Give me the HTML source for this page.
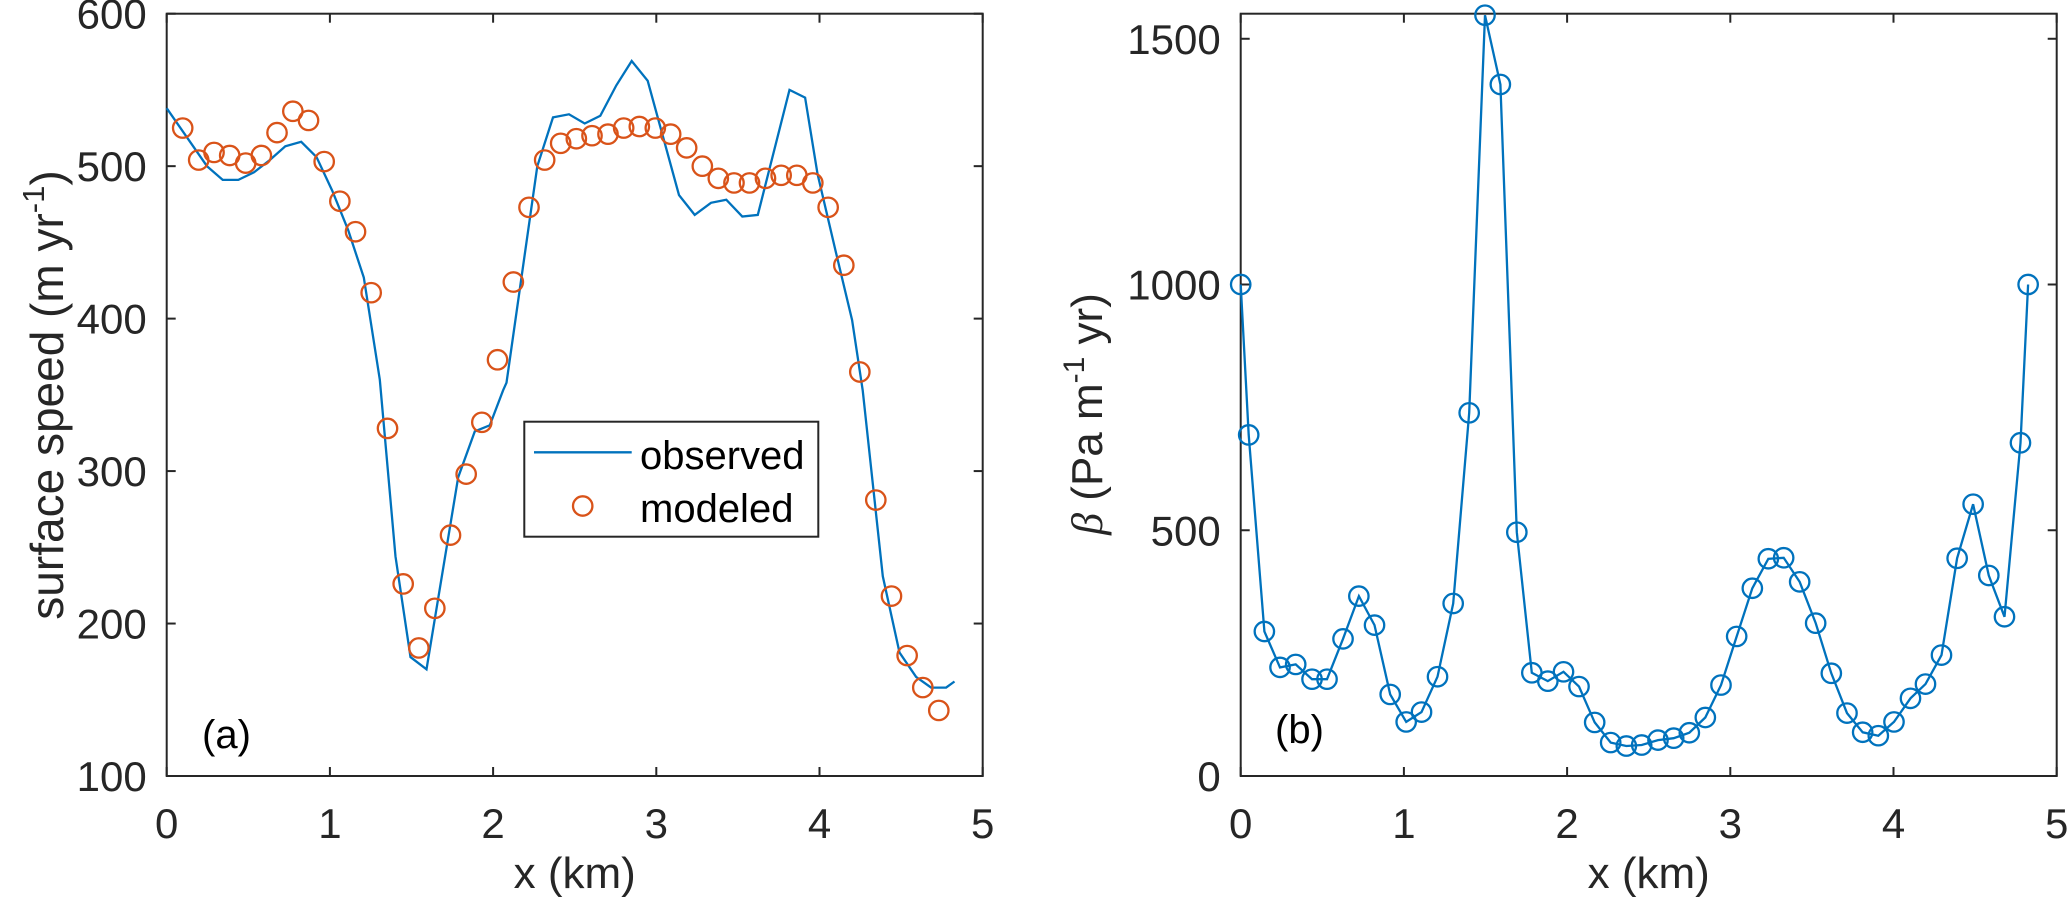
<!DOCTYPE html>
<html><head><meta charset="utf-8"><style>
html,body{margin:0;padding:0;background:#fff;}
svg{display:block;font-family:"Liberation Sans",Arial,sans-serif;}
</style></head><body>
<svg id="fig" width="2067" height="915" viewBox="0 0 2067 915" xmlns="http://www.w3.org/2000/svg">
<rect width="2067" height="915" fill="#fff"/>
<g id="pa"></g>
<g id="pb"></g>
</svg>
<script>
// Panel (a) data
const obsX = [0,0.247,0.343,0.439,0.535,0.631,0.727,0.824,0.918,1.014,1.112,1.208,1.306,1.402,1.494,1.592,1.786,1.888,1.980,2.061,2.082,2.271,2.367,2.465,2.561,2.657,2.755,2.849,2.947,3.139,3.235,3.335,3.429,3.527,3.622,3.816,3.912,3.988,4.102,4.200,4.265,4.388,4.490,4.592,4.684,4.776,4.827];
const obsY = [538,500,491,491,496,504,513,516,506,484,458,427,360,244,178,170,296,326,330,353,358,500,532,534,528,533,553,569,556,481,468,476,478,467,468,550,545,495,443,399,353,231,181,165,158,158,162];
const modX = [0.098,0.196,0.290,0.386,0.484,0.580,0.676,0.773,0.869,0.965,1.061,1.157,1.253,1.353,1.449,1.545,1.643,1.739,1.835,1.931,2.027,2.124,2.220,2.316,2.414,2.510,2.606,2.704,2.800,2.896,2.994,3.088,3.186,3.282,3.380,3.476,3.571,3.669,3.765,3.861,3.959,4.053,4.149,4.247,4.345,4.441,4.537,4.633,4.731];
const modY = [525,504,509,507,502,507,522,536,530,503,477,457,417,328,226,184,210,258,298,332,373,424,473,504,515,518,520,521,525,526,525,521,512,500,492,489,489,492,494,494,489,473,435,365,281,218,179,158,143];
const aXTicks = [0,1,2,3,4,5];
const aYTicks = [100,200,300,400,500,600];
// Panel (b) data
const betaX = [0,0.049,0.145,0.241,0.337,0.437,0.529,0.627,0.724,0.820,0.916,1.014,1.108,1.206,1.302,1.400,1.497,1.591,1.692,1.784,1.882,1.978,2.073,2.169,2.267,2.363,2.457,2.557,2.653,2.749,2.847,2.943,3.039,3.135,3.233,3.327,3.425,3.523,3.619,3.715,3.811,3.907,4.003,4.104,4.196,4.294,4.390,4.488,4.584,4.680,4.778,4.825];
const betaY = [1000,694,294,221,227,197,197,279,366,307,166,110,130,202,351,739,1548,1407,496,210,193,212,182,109,68,61,63,73,77,88,119,185,284,382,442,444,395,311,209,128,89,82,110,158,187,246,443,553,408,324,678,1000];
const bXTicks = [0,1,2,3,4,5];
const bYTicks = [0,500,1000,1500];

const NS="http://www.w3.org/2000/svg";
function mk(parent,tag,attrs){const e=document.createElementNS(NS,tag);for(const k in attrs)e.setAttribute(k,attrs[k]);parent.appendChild(e);return e;}
const AX="#262626";

function axes(g,L,R,T,B,xmin,xmax,ymin,ymax,xt,yt){
  const sx=v=>L+(v-xmin)/(xmax-xmin)*(R-L);
  const sy=v=>B-(v-ymin)/(ymax-ymin)*(B-T);
  const box=mk(g,'rect',{x:L,y:T,width:R-L,height:B-T,fill:'none',stroke:AX,'stroke-width':2});
  
  
  xt.forEach(v=>{
    const x=sx(v);
    const t1=mk(g,'line',{x1:x,x2:x,y1:B,y2:B-9,stroke:AX,'stroke-width':2});
    
    
    const t2=mk(g,'line',{x1:x,x2:x,y1:T,y2:T+9,stroke:AX,'stroke-width':2});
    
    
    const tx=mk(g,'text',{x:x,y:B+62,'font-size':42,fill:AX,'text-anchor':'middle'});
    tx.textContent=v;
    
    
  });
  yt.forEach(v=>{
    const y=sy(v);
    const t1=mk(g,'line',{x1:L,x2:L+9,y1:y,y2:y,stroke:AX,'stroke-width':2});
    
    
    const t2=mk(g,'line',{x1:R,x2:R-9,y1:y,y2:y,stroke:AX,'stroke-width':2});
    
    
    const tx=mk(g,'text',{x:L-20,y:y+15,'font-size':42,fill:AX,'text-anchor':'end'});
    tx.textContent=v;
    
    
  });
  return {sx,sy};
}

// Panel (a)
const ga=document.getElementById('pa');
const A=axes(ga,166.7,982.7,13.7,776,0,5,100,600,aXTicks,aYTicks);
let d=obsX.map((x,i)=>(i?'L':'M')+A.sx(x).toFixed(1)+' '+A.sy(obsY[i]).toFixed(1)).join(' ');
const pl=mk(ga,'path',{d:d,fill:'none',stroke:'#0072BD','stroke-width':2.3});


modX.forEach((x,i)=>{
  const c=mk(ga,'circle',{cx:A.sx(x),cy:A.sy(modY[i]),r:9.7,fill:'none',stroke:'#D95319','stroke-width':2.3});
  
  
});
// Panel (b)
const gb=document.getElementById('pb');
const Bx=axes(gb,1240.7,2056.7,13.7,776,0,5,0,1551,bXTicks,bYTicks);
d=betaX.map((x,i)=>(i?'L':'M')+Bx.sx(x).toFixed(1)+' '+Bx.sy(betaY[i]).toFixed(1)).join(' ');
const pb=mk(gb,'path',{d:d,fill:'none',stroke:'#0072BD','stroke-width':2.3});


betaX.forEach((x,i)=>{
  const c=mk(gb,'circle',{cx:Bx.sx(x),cy:Bx.sy(betaY[i]),r:9.7,fill:'none',stroke:'#0072BD','stroke-width':2.3});
  
  
});
</script>
<svg style="position:absolute;left:0;top:0" width="2067" height="915" xmlns="http://www.w3.org/2000/svg">
  <g font-family="Liberation Sans, Arial, sans-serif" fill="#262626">
    <text x="574.7" y="888" font-size="44" text-anchor="middle">x (km)</text>
    <text x="1648.7" y="888" font-size="44" text-anchor="middle">x (km)</text>
    <text transform="translate(63,395) rotate(-90)" font-size="46" text-anchor="middle">surface speed (m yr<tspan font-size="31" dy="-19">-1</tspan><tspan dy="19">)</tspan></text>
    <text transform="translate(1102,414) rotate(-90)" font-size="44" text-anchor="middle"><tspan font-family="Liberation Serif, serif" font-style="italic">β</tspan> (Pa m<tspan font-size="30" dy="-18">-1</tspan><tspan dy="18"> yr)</tspan></text>
    <text x="202" y="748" font-size="40" fill="#000">(a)</text>
    <text x="1275" y="743" font-size="40" fill="#000">(b)</text>
  </g>
  <g>
    <rect x="524.3" y="421.7" width="294" height="115" fill="#fff" stroke="#262626" stroke-width="2"/>
    <line x1="534" x2="631.7" y1="452.3" y2="452.3" stroke="#0072BD" stroke-width="2.3"/>
    <text x="640" y="469" font-size="40" font-family="Liberation Sans, Arial, sans-serif" fill="#000">observed</text>
    <circle cx="582.7" cy="506" r="9.7" fill="none" stroke="#D95319" stroke-width="2.3"/>
    <text x="640" y="522" font-size="40" font-family="Liberation Sans, Arial, sans-serif" fill="#000">modeled</text>
  </g>
</svg>
</body></html>
